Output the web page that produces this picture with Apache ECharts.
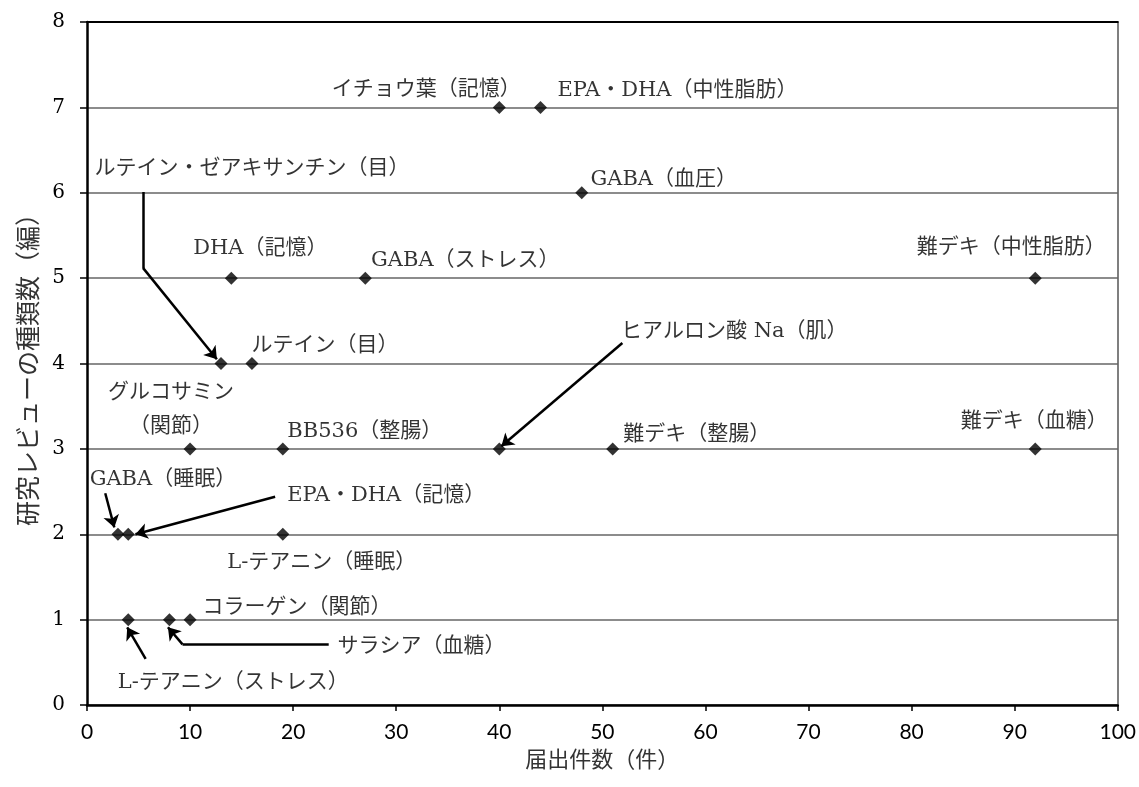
<!DOCTYPE html>
<html>
<head>
<meta charset="utf-8">
<script src="https://cdn.jsdelivr.net/npm/echarts@6/dist/echarts.min.js"></script>
<style>
  html, body { margin: 0; padding: 0; background: #fff; }
  #chart { width: 1139px; height: 787px; }
</style>
</head>
<body>
<div id="chart"></div>
<script>
// 機能性表示食品：成分（表示内容）ごとの届出件数と研究レビューの種類数
const items = [
  'イチョウ葉（記憶）', 'EPA・DHA（中性脂肪）', 'GABA（血圧）',
  'DHA（記憶）', 'GABA（ストレス）', '難デキ（中性脂肪）',
  'ルテイン・ゼアキサンチン（目）', 'ルテイン（目）',
  'グルコサミン（関節）', 'BB536（整腸）', 'ヒアルロン酸 Na（肌）', '難デキ（整腸）', '難デキ（血糖）',
  'GABA（睡眠）', 'EPA・DHA（記憶）', 'L-テアニン（睡眠）',
  'L-テアニン（ストレス）', 'サラシア（血糖）', 'コラーゲン（関節）'
];
// 届出件数（件）
const filings = [40, 44, 48, 14, 27, 92, 13, 16, 10, 19, 40, 51, 92, 3, 4, 19, 4, 8, 10];
// 研究レビューの種類数（編）
const reviews = [7, 7, 6, 5, 5, 5, 4, 4, 3, 3, 3, 3, 3, 2, 2, 2, 1, 1, 1];

// axis ranges [min, max, interval]
const xRange = [0, 100, 10];
const yRange = [0, 8, 1];

// leader arrows (data coordinates, last point is the arrow tip)
const leaders = [
  [[5.43, 6.01], [5.43, 5.12], [12.6, 4.05]],   // ルテイン・ゼアキサンチン
  [[51.94, 4.24], [40.2, 3.03]],                // ヒアルロン酸 Na
  [[1.77, 2.48], [2.65, 2.08]],                 // GABA（睡眠）
  [[18.25, 2.44], [4.7, 2.0]],                  // EPA・DHA（記憶）
  [[5.69, 0.54], [3.9, 0.91]],                  // L-テアニン（ストレス）
  [[23.45, 0.71], [9.27, 0.71], [7.85, 0.91]]   // サラシア
];

// label placement: offset of the label centre from its marker (px)
const labelLayout = {
  'イチョウ葉（記憶）': { offset: [-73, -18] },
  'EPA・DHA（中性脂肪）': { offset: [137, -17] },
  'GABA（血圧）': { offset: [82, -13] },
  'DHA（記憶）': { offset: [29, -30] },
  'GABA（ストレス）': { offset: [100, -18] },
  '難デキ（中性脂肪）': { offset: [-24, -31] },
  'ルテイン・ゼアキサンチン（目）': { offset: [31, -195] },
  'ルテイン（目）': { offset: [73, -18] },
  'グルコサミン（関節）': { offset: [-19, -39], text: 'グルコサミン\n（関節）' },
  'BB536（整腸）': { offset: [82, -17] },
  'ヒアルロン酸 Na（肌）': { offset: [235, -117] },
  '難デキ（整腸）': { offset: [84, -14] },
  '難デキ（血糖）': { offset: [-1, -27] },
  'GABA（睡眠）': { offset: [45, -55] },
  'EPA・DHA（記憶）': { offset: [258, -39] },
  'L-テアニン（睡眠）': { offset: [39, 28] },
  'L-テアニン（ストレス）': { offset: [105, 63] },
  'サラシア（血糖）': { offset: [252, 27] },
  'コラーゲン（関節）': { offset: [107, -12] }
};

const serif = "'DejaVu Serif', 'Noto Sans CJK JP', serif";
const cjk = "'Noto Sans CJK JP', sans-serif";

const points = items.map((name, i) => {
  const lay = labelLayout[name];
  return {
    name: name,
    value: [filings[i], reviews[i]],
    label: { offset: lay.offset, formatter: lay.text || name }
  };
});

// split each leader into plain segments and a final segment carrying the arrowhead
const plainSegments = [];
const tipSegments = [];
leaders.forEach(path => {
  for (let k = 0; k < path.length - 1; k++) {
    const seg = { coords: [path[k], path[k + 1]] };
    (k === path.length - 2 ? tipSegments : plainSegments).push(seg);
  }
});

const leaderLine = { color: '#000', width: 2.5, opacity: 1, curveness: 0 };

const chart = echarts.init(document.getElementById('chart'), null, { renderer: 'canvas' });

chart.setOption({
  animation: false,
  backgroundColor: '#fff',
  grid: { left: 87, right: 20, top: 22, bottom: 82, containLabel: false },
  xAxis: [
    {
      type: 'value', min: xRange[0], max: xRange[1], interval: xRange[2], position: 'bottom',
      name: '届出件数（件）', nameLocation: 'middle', nameGap: 43,
      nameTextStyle: { fontFamily: cjk, fontSize: 22, color: '#333' },
      axisLine: { show: true, onZero: false, lineStyle: { color: '#000', width: 2.5 } },
      axisTick: { show: true, length: 6, lineStyle: { color: '#000', width: 1.5 } },
      axisLabel: { fontFamily: 'Lato, sans-serif', fontSize: 21, color: '#000', margin: 17 },
      splitLine: { show: false }
    },
    {
      type: 'value', min: xRange[0], max: xRange[1], position: 'top',
      axisLine: { show: true, onZero: false, lineStyle: { color: '#000', width: 2 } },
      axisTick: { show: false }, axisLabel: { show: false }, splitLine: { show: false }
    }
  ],
  yAxis: [
    {
      type: 'value', min: yRange[0], max: yRange[1], interval: yRange[2], position: 'left',
      name: '研究レビューの種類数（編）', nameLocation: 'middle', nameGap: 47,
      nameTextStyle: { fontFamily: cjk, fontSize: 25, color: '#333' },
      axisLine: { show: true, onZero: false, lineStyle: { color: '#000', width: 2.5 } },
      axisTick: { show: true, length: 7, lineStyle: { color: '#000', width: 1.5 } },
      axisLabel: { fontFamily: serif, fontSize: 20, color: '#000', margin: 22 },
      splitLine: { show: true, lineStyle: { color: '#8c8c8c', width: 2 } }
    },
    {
      type: 'value', min: yRange[0], max: yRange[1], position: 'right',
      axisLine: { show: true, onZero: false, lineStyle: { color: '#555', width: 1.5 } },
      axisTick: { show: false }, axisLabel: { show: false }, splitLine: { show: false }
    }
  ],
  series: [
    {
      type: 'lines',
      coordinateSystem: 'cartesian2d',
      symbol: ['none', 'none'],
      silent: true,
      z: 3,
      lineStyle: leaderLine,
      data: plainSegments
    },
    {
      type: 'lines',
      coordinateSystem: 'cartesian2d',
      symbol: ['none', 'arrow'],
      symbolSize: 12,
      silent: true,
      z: 3,
      lineStyle: leaderLine,
      data: tipSegments
    },
    {
      type: 'scatter',
      symbol: 'diamond',
      symbolSize: 13,
      z: 4,
      itemStyle: { color: '#000' },
      label: {
        show: true,
        position: 'inside',
        align: 'center',
        verticalAlign: 'middle',
        fontFamily: serif,
        fontSize: 21,
        lineHeight: 34,
        color: '#000'
      },
      data: points
    }
  ]
});
</script>
</body>
</html>
